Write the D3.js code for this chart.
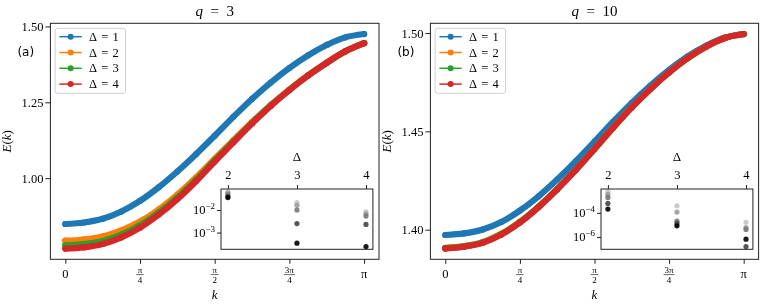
<!DOCTYPE html>
<html>
<head>
<meta charset="utf-8">
<script src="https://cdn.jsdelivr.net/npm/d3@7"></script>
<style>
  body { margin: 0; background: #fff; }
  svg { will-change: transform; }
  svg text { fill: #000; }
</style>
</head>
<body>
<div id="chart"></div>
<script>
// Canvas size
let svgWidth = 762;
let svgHeight = 305;
let serif = '"Liberation Serif", "DejaVu Serif", serif';

// Sampled momenta (k from 0 to pi)
let kGrid = [0, 0.196, 0.393, 0.589, 0.785, 0.982, 1.178, 1.374, 1.571,
             1.767, 1.963, 2.160, 2.356, 2.553, 2.749, 2.945, 3.142];

let deltaNames = ["1", "2", "3", "4"];
let seriesColors = ["#1f77b4", "#ff7f0e", "#2ca02c", "#d62728"];

// E(k), q = 3
let q3Delta1 = [0.849, 0.854, 0.866, 0.890, 0.925, 0.970, 1.022, 1.079, 1.140,
                1.202, 1.261, 1.315, 1.363, 1.405, 1.439, 1.464, 1.475];
let q3Delta2 = [0.794, 0.798, 0.808, 0.828, 0.857, 0.897, 0.946, 1.002, 1.064,
                1.125, 1.185, 1.241, 1.292, 1.339, 1.381, 1.418, 1.445];
let q3Delta3 = [0.779, 0.783, 0.793, 0.814, 0.845, 0.887, 0.937, 0.995, 1.059,
                1.121, 1.182, 1.240, 1.291, 1.338, 1.380, 1.418, 1.445];
let q3Delta4 = [0.768, 0.772, 0.783, 0.805, 0.837, 0.880, 0.931, 0.990, 1.055,
                1.118, 1.180, 1.238, 1.290, 1.338, 1.380, 1.418, 1.445];

// E(k), q = 10
let q10Delta1 = [1.3973, 1.3981, 1.4001, 1.4039, 1.4097, 1.4170, 1.4255, 1.4348, 1.4448,
                 1.4549, 1.4645, 1.4733, 1.4812, 1.4881, 1.4936, 1.4977, 1.4995];
let q10Delta2 = [1.3908, 1.3917, 1.3937, 1.3979, 1.4040, 1.4118, 1.4208, 1.4306, 1.4412,
                 1.4520, 1.4623, 1.4716, 1.4800, 1.4873, 1.4932, 1.4975, 1.4995];
let q10Delta3 = [1.3906, 1.3915, 1.3935, 1.3977, 1.4038, 1.4116, 1.4206, 1.4305, 1.4411,
                 1.4519, 1.4622, 1.4716, 1.4800, 1.4873, 1.4932, 1.4975, 1.4995];
let q10Delta4 = [1.3904, 1.3913, 1.3933, 1.3975, 1.4036, 1.4115, 1.4205, 1.4304, 1.4411,
                 1.4519, 1.4622, 1.4716, 1.4800, 1.4873, 1.4932, 1.4975, 1.4995];

let q3Ticks = [1.00, 1.25, 1.50];
let q10Ticks = [1.40, 1.45, 1.50];

// k tick labels: numerator / denominator
let kTickValues = [0, Math.PI / 4, Math.PI / 2, 3 * Math.PI / 4, Math.PI];
let kTickNum = ["0", "π", "π", "3π", "π"];
let kTickDen = ["", "4", "2", "4", ""];

// Insets: deviation vs Delta, one row per grey level (light -> black)
let insetDelta = [2, 3, 4];
let insetGreys = ["#c4c4c4", "#9c9c9c", "#777777", "#454545", "#000000"];
let q3Inset = [
  [0.0646, 0.0214, 0.0083],
  [0.0562, 0.0162, 0.0066],
  [0.0479, 0.0100, 0.0054],
  [0.0398, 0.0025, 0.0023],
  [0.0355, 0.00034, 0.00024]
];
let q10Inset = [
  [0.0056, 0.00038, 1.66e-5],
  [0.0034, 1.15e-4, 6.0e-6],
  [0.0019, 2.04e-5, 4.2e-6],
  [6.0e-4, 1.32e-5, 1.6e-7],
  [2.04e-4, 8.3e-6, 6.5e-7]
];
let q3InsetTicks = [1e-2, 1e-3];
let q10InsetTicks = [1e-4, 1e-6];

let svg = d3.select("#chart")
  .append("svg")
  .attr("width", svgWidth)
  .attr("height", svgHeight)
  .style("font-family", serif);

function txt(sel, size) {
  return sel.style("font-family", serif).style("font-size", size + "px");
}

function drawPanel(p) {
  let g = svg.append("g");

  // scales with matplotlib-like 5% margins
  let xScale = d3.scaleLinear()
    .domain([-0.05 * Math.PI, 1.05 * Math.PI])
    .range([p.x0, p.x1]);
  let all = p.series.flat();
  let mn = d3.min(all), mx = d3.max(all), pad = (mx - mn) * 0.05;
  let yScale = d3.scaleLinear()
    .domain([mn - pad, mx + pad])
    .range([p.y1, p.y0]);

  // curves (thick band = dense markers in the original)
  let line = d3.line()
    .x((d, i) => xScale(kGrid[i]))
    .y(d => yScale(d))
    .curve(d3.curveMonotoneX);
  p.series.forEach((s, i) => {
    g.append("path")
      .attr("d", line(s))
      .attr("fill", "none")
      .attr("stroke", seriesColors[i])
      .attr("stroke-width", 6.2)
      .attr("stroke-linecap", "round")
      .attr("stroke-linejoin", "round");
    g.selectAll(null)
      .data(s)
      .enter()
      .append("circle")
      .attr("cx", (d, j) => xScale(kGrid[j]))
      .attr("cy", d => yScale(d))
      .attr("r", 3.1)
      .attr("fill", seriesColors[i]);
  });

  // x axis
  let xAxis = g.append("g")
    .attr("transform", `translate(0, ${p.y1})`)
    .call(d3.axisBottom(xScale).tickValues(kTickValues).tickSize(4.5).tickFormat(""));
  xAxis.select(".domain").remove();
  xAxis.selectAll("line").attr("stroke", "#222");

  kTickValues.forEach((v, i) => {
    let cx = xScale(v);
    if (kTickDen[i] === "") {
      txt(g.append("text"), 12.5).attr("x", cx).attr("y", 277.5)
        .attr("text-anchor", "middle").text(kTickNum[i]);
    } else {
      let bw = kTickNum[i].length > 1 ? 11 : 7.5;
      txt(g.append("text"), 9).attr("x", cx).attr("y", 272.5)
        .attr("text-anchor", "middle").text(kTickNum[i]);
      g.append("line").attr("x1", cx - bw / 2).attr("x2", cx + bw / 2)
        .attr("y1", 274.6).attr("y2", 274.6)
        .attr("stroke", "#000").attr("stroke-width", 0.6);
      txt(g.append("text"), 9).attr("x", cx).attr("y", 283.3)
        .attr("text-anchor", "middle").text(kTickDen[i]);
    }
  });

  // y axis
  let yAxis = g.append("g")
    .attr("transform", `translate(${p.x0}, 0)`)
    .call(d3.axisLeft(yScale).tickValues(p.yTicks).tickSize(5).tickPadding(2)
      .tickFormat(d3.format(".2f")));
  yAxis.select(".domain").remove();
  yAxis.selectAll("line").attr("stroke", "#222");
  txt(yAxis.selectAll("text"), 12.5);

  // frame
  g.append("rect")
    .attr("x", p.x0).attr("y", p.y0)
    .attr("width", p.x1 - p.x0).attr("height", p.y1 - p.y0)
    .attr("fill", "none").attr("stroke", "#222").attr("stroke-width", 1);

  // title, labels
  let midX = (p.x0 + p.x1) / 2;
  let title = txt(g.append("text"), 15).attr("x", midX).attr("y", 16)
    .attr("text-anchor", "middle");
  title.append("tspan").style("font-style", "italic").text("q");
  title.append("tspan").text("\u2002=\u2002" + p.q);

  txt(g.append("text"), 13).attr("x", midX).attr("y", 299)
    .attr("text-anchor", "middle")
    .style("font-style", "italic").text("k");

  let eLabel = txt(g.append("text"), 13)
    .attr("transform", `translate(${p.x0 - 39.5}, ${(p.y0 + p.y1) / 2}) rotate(-90)`)
    .attr("text-anchor", "middle");
  eLabel.append("tspan").style("font-style", "italic").text("E");
  eLabel.append("tspan").text("(");
  eLabel.append("tspan").style("font-style", "italic").text("k");
  eLabel.append("tspan").text(")");

  g.append("text").attr("x", p.x0 - 33).attr("y", p.y0 + 32.5)
    .style("font-family", '"DejaVu Sans", sans-serif').style("font-size", "12px")
    .text(p.tag);

  // legend
  let lg = g.append("g").attr("transform", `translate(${p.x0 + 4.7}, ${p.y0 + 5})`);
  lg.append("rect").attr("width", 70.5).attr("height", 65).attr("rx", 2.5)
    .attr("fill", "#fff").attr("fill-opacity", 0.85)
    .attr("stroke", "#d0d0d0").attr("stroke-width", 1);
  deltaNames.forEach((name, i) => {
    let ry = 8.4 + i * 15.8;
    lg.append("line").attr("x1", 4.3).attr("x2", 26.6).attr("y1", ry).attr("y2", ry)
      .attr("stroke", seriesColors[i]).attr("stroke-width", 1.5);
    lg.append("circle").attr("cx", 15.5).attr("cy", ry).attr("r", 3)
      .attr("fill", seriesColors[i]);
    txt(lg.append("text"), 12.5).attr("x", 34).attr("y", ry + 4.2)
      .text("Δ\u2004=\u2004" + name);
  });

  // inset
  let ix0 = p.x0 + 170.6, ix1 = p.x0 + 322.5, iy0 = 189, iy1 = 249.3;
  let xi = d3.scaleLinear().domain([1.9, 4.1]).range([ix0, ix1]);
  let ivals = p.inset.flat();
  let lmn = Math.log10(d3.min(ivals)), lmx = Math.log10(d3.max(ivals));
  let lpad = (lmx - lmn) * 0.05;
  let yi = d3.scaleLog()
    .domain([Math.pow(10, lmn - lpad), Math.pow(10, lmx + lpad)])
    .range([iy1, iy0]);

  g.append("rect").attr("x", ix0).attr("y", iy0)
    .attr("width", ix1 - ix0).attr("height", iy1 - iy0)
    .attr("fill", "#fff");

  p.inset.forEach((row, l) => {
    g.selectAll(null)
      .data(row)
      .enter()
      .append("circle")
      .attr("cx", (d, j) => xi(insetDelta[j]))
      .attr("cy", d => yi(d))
      .attr("r", 2.6)
      .attr("fill", insetGreys[l])
      .attr("fill-opacity", 0.9);
  });

  g.append("rect").attr("x", ix0).attr("y", iy0)
    .attr("width", ix1 - ix0).attr("height", iy1 - iy0)
    .attr("fill", "none").attr("stroke", "#222").attr("stroke-width", 1);

  let ixAxis = g.append("g")
    .attr("transform", `translate(0, ${iy0})`)
    .call(d3.axisTop(xi).tickValues(insetDelta).tickSize(4).tickPadding(6)
      .tickFormat(d3.format("d")));
  ixAxis.select(".domain").remove();
  ixAxis.selectAll("line").attr("stroke", "#222");
  txt(ixAxis.selectAll("text"), 12.5);

  txt(g.append("text"), 13).attr("x", xi(3)).attr("y", iy0 - 28)
    .attr("text-anchor", "middle").text("Δ");

  let iyAxis = g.append("g")
    .attr("transform", `translate(${ix0}, 0)`)
    .call(d3.axisLeft(yi).tickValues(p.insetTicks).tickSize(4).tickFormat(""));
  iyAxis.select(".domain").remove();
  iyAxis.selectAll("line").attr("stroke", "#222");

  p.insetTicks.forEach(t => {
    let ty = yi(t);
    let lab = txt(g.append("text"), 12.5).attr("x", ix0 - 6).attr("y", ty + 4.2)
      .attr("text-anchor", "end");
    lab.append("tspan").text("10");
    lab.append("tspan").attr("dy", -5).style("font-size", "9px")
      .text("−" + Math.round(-Math.log10(t)));
  });
}

drawPanel({
  x0: 50.4, x1: 379, y0: 23.3, y1: 259.3,
  q: "3", tag: "(a)",
  series: [q3Delta1, q3Delta2, q3Delta3, q3Delta4],
  yTicks: q3Ticks,
  inset: q3Inset, insetTicks: q3InsetTicks
});

drawPanel({
  x0: 430.4, x1: 758.6, y0: 23.3, y1: 259.3,
  q: "10", tag: "(b)",
  series: [q10Delta1, q10Delta2, q10Delta3, q10Delta4],
  yTicks: q10Ticks,
  inset: q10Inset, insetTicks: q10InsetTicks
});
</script>
</body>
</html>
